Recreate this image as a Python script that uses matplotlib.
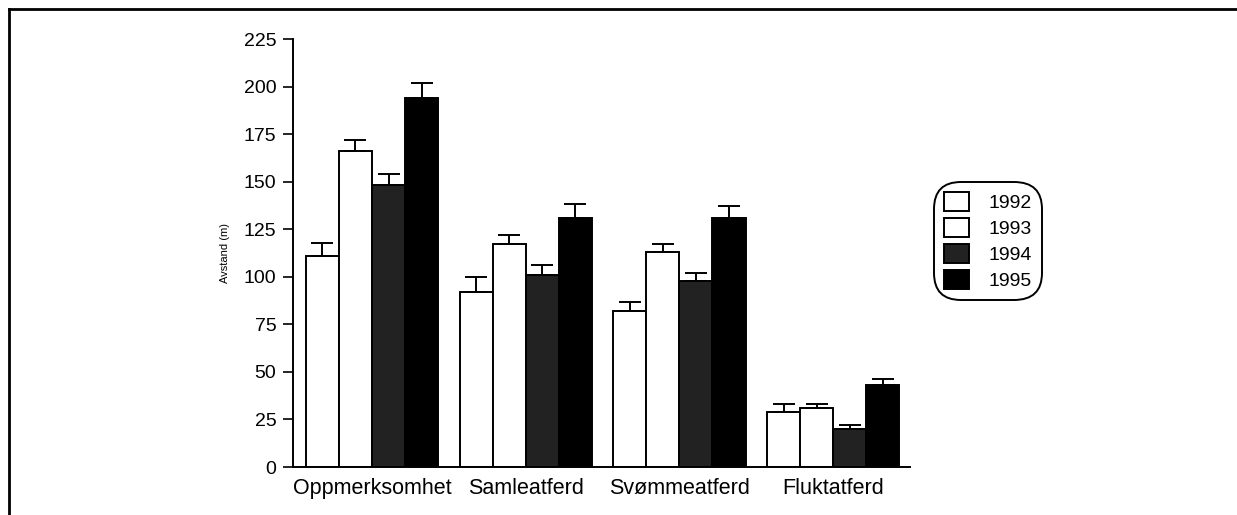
import matplotlib
matplotlib.use('Agg')
import matplotlib.pyplot as plt
from matplotlib.lines import Line2D
import numpy as np

plt.rcParams['font.family'] = ['Liberation Sans', 'DejaVu Sans']

categories = ['Oppmerksomhet', 'Samleatferd', 'Svømmeatferd', 'Fluktatferd']
years = ['1992', '1993', '1994', '1995']
values = {
    '1992': [111, 92, 82, 29],
    '1993': [166, 117, 113, 31],
    '1994': [148, 101, 98, 20],
    '1995': [194, 131, 131, 43],
}
errors = {
    '1992': [7, 8, 5, 4],
    '1993': [6, 5, 4, 2],
    '1994': [6, 5, 4, 2],
    '1995': [8, 7, 6, 3],
}
colors = {'1992': 'white', '1993': 'white', '1994': '#222222', '1995': 'black'}
yticks = [0, 25, 50, 75, 100, 125, 150, 175, 200, 225]

W, H = 1237, 515
fig = plt.figure(figsize=(W / 100, H / 100), dpi=100)
ax = fig.add_axes([293 / W, 1 - 467 / H, (910 - 293) / W, (467 - 39) / H])

x = np.arange(len(categories))
w = 0.215
for i, yr in enumerate(years):
    pos = x + (i - 1.5) * w
    ax.bar(pos, values[yr], width=w, color=colors[yr], edgecolor='black',
           linewidth=1.4, label=yr, zorder=2)
    ax.errorbar(pos, values[yr], yerr=[[0] * len(x), errors[yr]], fmt='none',
                ecolor='black', elinewidth=1.4, capsize=8, capthick=1.4, zorder=3)

ax.set_xlim(-0.514, 3.50)
ax.set_ylim(0, 225)
ax.set_yticks(yticks)
ax.set_xticks(x)
ax.set_xticklabels(categories, fontsize=15.5)
ax.tick_params(axis='x', length=0, pad=8)
ax.tick_params(axis='y', labelsize=14, length=7, width=1.2, direction='out', pad=5)
ax.set_ylabel('Avstand (m)', fontsize=8, labelpad=10)
for s in ['top', 'right']:
    ax.spines[s].set_visible(False)
ax.spines['left'].set_linewidth(1.4)
ax.spines['bottom'].set_linewidth(1.4)

leg = fig.legend(loc='upper left', bbox_to_anchor=(938 / W, 1 - 186 / H), fontsize=14,
                 frameon=True, fancybox=True, edgecolor='black', framealpha=1,
                 handlelength=1.3, handleheight=1.15, handletextpad=1.0,
                 labelspacing=0.3, borderpad=0.3, borderaxespad=0)
leg.get_frame().set_linewidth(1.4)
leg.get_frame().set_boxstyle('round', pad=0.2, rounding_size=1.4)

# outer frame (top and left edges)
fig.add_artist(Line2D([9 / W, 1.0], [1 - 9 / H, 1 - 9 / H],
                      color='black', lw=2, transform=fig.transFigure))
fig.add_artist(Line2D([9 / W, 9 / W], [0, 1 - 9 / H],
                      color='black', lw=2, transform=fig.transFigure))

fig.savefig('out.png', dpi=100)
